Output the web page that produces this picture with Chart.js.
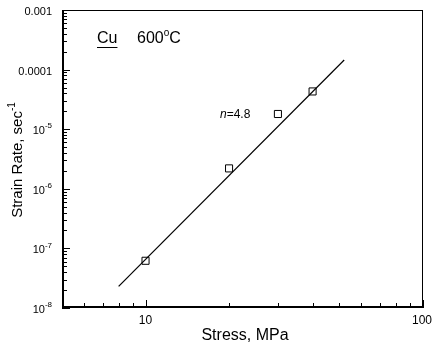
<!DOCTYPE html>
<html>
<head>
<meta charset="utf-8">
<script src="https://cdn.jsdelivr.net/npm/chart.js@4.4.0/dist/chart.umd.min.js"></script>
<style>
  body { margin: 0; background: #fff; }
</style>
</head>
<body>
<canvas id="grafico" width="432" height="346"></canvas>
<script>
// dados
const stressPts = [10, 20, 30, 40];
const ratePts = [6.2e-8, 2.2e-6, 1.8e-5, 4.3e-5];

// reta ajustada (n = 4.8)
const fitStress = [8, 52];
const fitRate = [2.3e-8, 1.45e-4];

// rótulos dos eixos
const yTickValues = [1e-8, 1e-7, 1e-6, 1e-5, 1e-4, 1e-3];
const yTickBase = ['10', '10', '10', '10', '0.0001', '0.001'];
const yTickExp = ['-8', '-7', '-6', '-5', '', ''];
const xTickValues = [10, 100];
const xTickLabels = ['10', '100'];

const FONTE = '"Liberation Sans", Arial, sans-serif';

// plugin que desenha moldura, ticks para dentro e textos
const moldura = {
  id: 'moldura',
  afterDraw(chart) {
    const ctx = chart.ctx;
    const a = chart.chartArea;
    const sx = chart.scales.x;
    const sy = chart.scales.y;
    ctx.save();
    ctx.strokeStyle = '#000';
    ctx.fillStyle = '#000';

    // moldura
    ctx.lineWidth = 1;
    ctx.strokeRect(a.left + 0.5, a.top + 0.5, a.right - a.left - 1, a.bottom - a.top - 1);
    ctx.lineWidth = 2;
    ctx.beginPath();
    ctx.moveTo(a.left + 1, a.top);
    ctx.lineTo(a.left + 1, a.bottom - 1);
    ctx.lineTo(a.right, a.bottom - 1);
    ctx.stroke();

    // ticks do eixo y (decadas + 2..9)
    ctx.lineWidth = 1;
    for (let e = -8; e <= -3; e++) {
      for (let m = 1; m <= 9; m++) {
        const v = m * Math.pow(10, e);
        if (v > 1e-3 * 1.0001) break;
        const py = Math.round(sy.getPixelForValue(v)) + 0.5;
        const len = m === 1 ? 8 : 5;
        ctx.beginPath();
        ctx.moveTo(a.left, py);
        ctx.lineTo(a.left + len, py);
        ctx.stroke();
      }
    }

    // ticks do eixo x
    for (let e = 0; e <= 2; e++) {
      for (let m = 1; m <= 9; m++) {
        const v = m * Math.pow(10, e);
        if (v < 5 || v > 100) continue;
        const px = Math.round(sx.getPixelForValue(v)) + 0.5;
        const len = m === 1 ? 8 : 5;
        ctx.beginPath();
        ctx.moveTo(px, a.bottom);
        ctx.lineTo(px, a.bottom - len);
        ctx.stroke();
      }
    }

    // rótulos y
    ctx.textBaseline = 'middle';
    yTickValues.forEach((v, i) => {
      const py = sy.getPixelForValue(v) + 2;
      const xr = 52;
      if (yTickExp[i]) {
        ctx.font = '8px ' + FONTE;
        const we = ctx.measureText(yTickExp[i]).width;
        ctx.textAlign = 'left';
        ctx.fillText(yTickExp[i], xr - we, py - 5);
        ctx.font = '11px ' + FONTE;
        ctx.textAlign = 'right';
        ctx.fillText(yTickBase[i], xr - we, py);
      } else {
        ctx.font = '11px ' + FONTE;
        ctx.textAlign = 'right';
        ctx.fillText(yTickBase[i], xr, py);
      }
    });

    // rótulos x
    ctx.font = '12px ' + FONTE;
    ctx.textAlign = 'center';
    ctx.textBaseline = 'top';
    xTickValues.forEach((v, i) => {
      let px = sx.getPixelForValue(v);
      if (i === xTickLabels.length - 1) px = Math.min(px, 432 - 10);
      ctx.fillText(xTickLabels[i], px, a.bottom + 7);
    });

    // títulos dos eixos
    ctx.font = '16px ' + FONTE;
    ctx.textAlign = 'center';
    ctx.textBaseline = 'middle';
    ctx.fillText('Stress, MPa', 245, 336);

    ctx.save();
    ctx.translate(18, 160);
    ctx.rotate(-Math.PI / 2);
    const t1 = 'Strain Rate, sec';
    ctx.font = '15px ' + FONTE;
    const w1 = ctx.measureText(t1).width;
    ctx.font = '10px ' + FONTE;
    const w2 = ctx.measureText('-1').width;
    const x0 = -(w1 + w2) / 2;
    ctx.textAlign = 'left';
    ctx.font = '15px ' + FONTE;
    ctx.fillText(t1, x0, 0);
    ctx.font = '10px ' + FONTE;
    ctx.fillText('-1', x0 + w1, -6);
    ctx.restore();

    // Cu 600°C
    ctx.font = '16px ' + FONTE;
    ctx.textAlign = 'left';
    ctx.textBaseline = 'middle';
    ctx.fillText('Cu', 97, 39);
    const wcu = ctx.measureText('Cu').width;
    ctx.lineWidth = 1;
    ctx.beginPath();
    ctx.moveTo(97, 47.5);
    ctx.lineTo(97 + wcu, 47.5);
    ctx.stroke();
    ctx.fillText('600', 137, 39);
    const w600 = ctx.measureText('600').width;
    ctx.font = '10px ' + FONTE;
    ctx.fillText('o', 137 + w600, 33);
    const wo = ctx.measureText('o').width;
    ctx.font = '16px ' + FONTE;
    ctx.fillText('C', 137 + w600 + wo, 39);

    // n=4.8
    ctx.font = 'italic 12px ' + FONTE;
    ctx.fillText('n', 220, 115);
    const wn = ctx.measureText('n').width;
    ctx.font = '12px ' + FONTE;
    ctx.fillText('=4.8', 220 + wn, 115);

    ctx.restore();
  }
};

const ctxGrafico = document.getElementById('grafico').getContext('2d');
const meuGrafico = new Chart(ctxGrafico, {
  type: 'scatter',
  data: {
    datasets: [
      {
        label: 'fit',
        data: fitStress.map((s, i) => ({ x: s, y: fitRate[i] })),
        showLine: true,
        borderColor: '#000',
        borderWidth: 1.2,
        pointRadius: 0,
        fill: false
      },
      {
        label: 'Cu',
        data: stressPts.map((s, i) => ({ x: s, y: ratePts[i] })),
        pointStyle: 'rect',
        pointRadius: 5,
        backgroundColor: '#fff',
        borderColor: '#000',
        borderWidth: 1
      }
    ]
  },
  options: {
    responsive: false,
    animation: false,
    devicePixelRatio: 1,
    layout: { padding: { left: 62, top: 10, right: 9, bottom: 38 } },
    plugins: {
      legend: { display: false },
      tooltip: { enabled: false }
    },
    scales: {
      x: { type: 'logarithmic', min: 5, max: 100, display: false },
      y: { type: 'logarithmic', min: 1e-8, max: 1e-3, display: false }
    }
  },
  plugins: [moldura]
});
</script>
</body>
</html>
